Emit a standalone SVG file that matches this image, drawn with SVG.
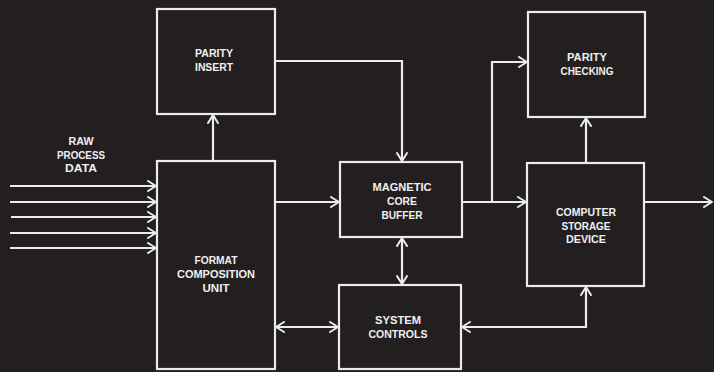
<svg xmlns="http://www.w3.org/2000/svg" width="714" height="372" viewBox="0 0 714 372">
  <defs>
    <marker id="ah" viewBox="-10 -6 12 12" refX="0" refY="0" markerWidth="12" markerHeight="12" markerUnits="userSpaceOnUse" orient="auto-start-reverse">
      <path d="M -8 -5 L 0 0 L -8 5" fill="none" stroke="#ebebeb" stroke-width="2" stroke-linecap="round" stroke-linejoin="round"/>
    </marker>
    <style>
      .box { fill: none; stroke: #ebebeb; stroke-width: 2.2; }
      .ln { fill: none; stroke: #ebebeb; stroke-width: 2.2; }
      .end { marker-end: url(#ah); }
      .both { marker-start: url(#ah); marker-end: url(#ah); }
      text { font-family: "Liberation Sans", Arial, sans-serif; font-weight: bold; font-size: 11px; fill: #f0f0f0; text-anchor: middle; }
    </style>
  </defs>
  <rect x="0" y="0" width="714" height="372" fill="#231f20"/>

  <g id="raw-label">
    <text x="81" y="145" textLength="25" lengthAdjust="spacingAndGlyphs">RAW</text>
    <text x="81" y="158.5" textLength="48" lengthAdjust="spacingAndGlyphs">PROCESS</text>
    <text x="81" y="172" textLength="32" lengthAdjust="spacingAndGlyphs">DATA</text>
  </g>

  <g id="parity-insert">
    <rect class="box" x="157" y="9" width="118" height="105"/>
    <text x="214" y="57" textLength="38" lengthAdjust="spacingAndGlyphs">PARITY</text>
    <text x="214" y="71" textLength="38" lengthAdjust="spacingAndGlyphs">INSERT</text>
  </g>

  <g id="format-composition-unit">
    <rect class="box" x="157" y="161" width="118" height="208"/>
    <text x="216" y="264" textLength="43" lengthAdjust="spacingAndGlyphs">FORMAT</text>
    <text x="216" y="278" textLength="78" lengthAdjust="spacingAndGlyphs">COMPOSITION</text>
    <text x="216" y="292" textLength="27" lengthAdjust="spacingAndGlyphs">UNIT</text>
  </g>

  <g id="magnetic-core-buffer">
    <rect class="box" x="340" y="162" width="122" height="75"/>
    <text x="402" y="191" textLength="59" lengthAdjust="spacingAndGlyphs">MAGNETIC</text>
    <text x="402" y="205" textLength="30" lengthAdjust="spacingAndGlyphs">CORE</text>
    <text x="402" y="219" textLength="41" lengthAdjust="spacingAndGlyphs">BUFFER</text>
  </g>

  <g id="system-controls">
    <rect class="box" x="339" y="285" width="122" height="84"/>
    <text x="398" y="324" textLength="46" lengthAdjust="spacingAndGlyphs">SYSTEM</text>
    <text x="398" y="338" textLength="59" lengthAdjust="spacingAndGlyphs">CONTROLS</text>
  </g>

  <g id="parity-checking">
    <rect class="box" x="528" y="12" width="117" height="105"/>
    <text x="587" y="61" textLength="40" lengthAdjust="spacingAndGlyphs">PARITY</text>
    <text x="587" y="74.5" textLength="53" lengthAdjust="spacingAndGlyphs">CHECKING</text>
  </g>

  <g id="computer-storage-device">
    <rect class="box" x="527" y="163" width="117" height="123"/>
    <text x="586" y="216" textLength="60" lengthAdjust="spacingAndGlyphs">COMPUTER</text>
    <text x="586" y="229.5" textLength="49" lengthAdjust="spacingAndGlyphs">STORAGE</text>
    <text x="586" y="243" textLength="40" lengthAdjust="spacingAndGlyphs">DEVICE</text>
  </g>

  <g id="connectors">
    <path class="ln end" d="M 10 186 H 156"/>
    <path class="ln end" d="M 10 202 H 156"/>
    <path class="ln end" d="M 11 217 H 156"/>
    <path class="ln end" d="M 10 233 H 156"/>
    <path class="ln end" d="M 10 248 H 156"/>
    <path class="ln end" d="M 213 160 V 115"/>
    <path class="ln end" d="M 276 61 H 402 V 161"/>
    <path class="ln end" d="M 276 202 H 339"/>
    <path class="ln both" d="M 402 238 V 284"/>
    <path class="ln both" d="M 276 327 H 338"/>
    <path class="ln end" d="M 463 202 H 526"/>
    <path class="ln end" d="M 492 202 V 62 H 527"/>
    <path class="ln end" d="M 586 162 V 118"/>
    <path class="ln end" d="M 645 202 H 712"/>
    <path class="ln both" d="M 462 327 H 586 V 287"/>
  </g>
</svg>
